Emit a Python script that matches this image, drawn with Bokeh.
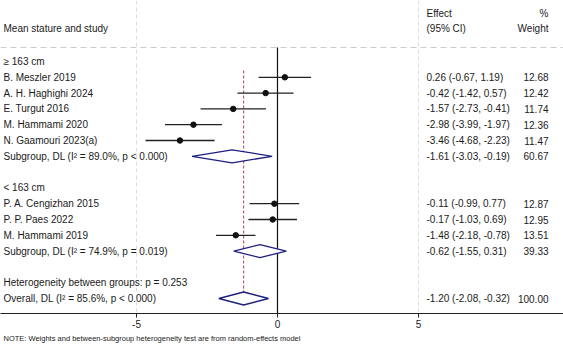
from bokeh.plotting import figure
from bokeh.models import (ColumnDataSource, Range1d, LinearAxis, FixedTicker, Span, Title)
from bokeh.core.properties import value
from bokeh.embed import file_html
from bokeh.resources import INLINE

# ---------------- data ----------------
group_labels = ["\u2265 163 cm", "< 163 cm"]
studies_1 = ["B. Meszler 2019", "A. H. Haghighi 2024", "E. Turgut 2016",
             "M. Hammami 2020", "N. Gaamouri 2023(a)"]
effect_1 = [0.26, -0.42, -1.57, -2.98, -3.46]
lower_1 = [-0.67, -1.42, -2.73, -3.99, -4.68]
upper_1 = [1.19, 0.57, -0.41, -1.97, -2.23]
weight_1 = [12.68, 12.42, 11.74, 12.36, 11.47]

studies_2 = ["P. A. Cengizhan 2015", "P. P. Paes 2022", "M. Hammami 2019"]
effect_2 = [-0.11, -0.17, -1.48]
lower_2 = [-0.99, -1.03, -2.18]
upper_2 = [0.77, 0.69, -0.78]
weight_2 = [12.87, 12.95, 13.51]

subgroup_effect = [-1.61, -0.62]
subgroup_lower = [-3.03, -1.55]
subgroup_upper = [-0.19, 0.31]
subgroup_weight = [60.67, 39.33]
subgroup_labels = ["Subgroup, DL (I\u00b2 = 89.0%, p < 0.000)",
                   "Subgroup, DL (I\u00b2 = 74.9%, p = 0.019)"]

overall_effect = -1.20
overall_lower = -2.08
overall_upper = -0.32
overall_weight = 100.00
overall_label = "Overall, DL (I\u00b2 = 85.6%, p < 0.000)"
heterogeneity_label = "Heterogeneity between groups: p = 0.253"
note_text = "NOTE: Weights and between-subgroup heterogeneity test are from random-effects model"
x_ticks = [-5, 0, 5]

# ---------------- layout helpers ----------------
W, FH = 563, 313
X0PX, PXU = 277.0, 28.2          # pixel of x=0, pixels per unit
ROW0PX, ROWPX = 61.0, 15.8       # pixel of row 1, pixels per row


def px2x(px):
    return (px - X0PX) / PXU


def px2r(py):
    return 1 + (py - ROW0PX) / ROWPX


FONT = value("Liberation Sans")
TXT = "#1a1a1a"

p = figure(frame_width=W, frame_height=FH, output_backend="svg", toolbar_location=None,
           x_range=Range1d(px2x(0), px2x(W)), y_range=Range1d(px2r(FH), px2r(0)),
           x_axis_location=None, y_axis_location=None,
           min_border_left=0, min_border_right=0, min_border_top=0, min_border_bottom=0)
p.outline_line_color = None
p.background_fill_color = "white"
p.border_fill_color = "white"
p.ygrid.visible = False

xaxis = LinearAxis(ticker=FixedTicker(ticks=x_ticks))
xaxis.major_label_overrides = {t: str(t) for t in x_ticks}
xaxis.major_tick_out = 4
xaxis.major_tick_in = 0
xaxis.minor_tick_line_color = None
xaxis.axis_line_color = "#222222"
xaxis.major_tick_line_color = "#222222"
xaxis.major_label_text_font = "Liberation Sans"
xaxis.major_label_text_font_size = "10px"
xaxis.major_label_text_color = TXT
xaxis.major_label_standoff = 2
p.add_layout(xaxis, "below")

p.xgrid.ticker = FixedTicker(ticks=[t for t in x_ticks if t != 0])
p.xgrid.grid_line_color = "#dddddd"
p.xgrid.grid_line_dash = "4 3"

note = Title(text=note_text, text_font_size="7.5px", text_font="Liberation Sans",
             text_font_style="normal", text_color=TXT, align="left", standoff=2, offset=3)
p.add_layout(note, "below")

# ---------------- rows ----------------
label_rows, label_texts = [], []
st_rows, st_eff, st_lo, st_hi, st_w = [], [], [], [], []
d_rows, d_eff, d_lo, d_hi, d_w = [], [], [], [], []

row = 1
groups = [(studies_1, effect_1, lower_1, upper_1, weight_1),
          (studies_2, effect_2, lower_2, upper_2, weight_2)]
for g, (names, ef, lo, hi, w) in enumerate(groups):
    label_rows.append(row); label_texts.append(group_labels[g]); row += 1
    for n, e, l, h, ww in zip(names, ef, lo, hi, w):
        label_rows.append(row); label_texts.append(n)
        st_rows.append(row); st_eff.append(e); st_lo.append(l); st_hi.append(h); st_w.append(ww)
        row += 1
    label_rows.append(row); label_texts.append(subgroup_labels[g])
    d_rows.append(row); d_eff.append(subgroup_effect[g]); d_lo.append(subgroup_lower[g])
    d_hi.append(subgroup_upper[g]); d_w.append(subgroup_weight[g])
    row += 2
label_rows.append(row); label_texts.append(heterogeneity_label); row += 1
label_rows.append(row); label_texts.append(overall_label)
d_rows.append(row); d_eff.append(overall_effect); d_lo.append(overall_lower)
d_hi.append(overall_upper); d_w.append(overall_weight)
last_row = row

# horizontal dashed separator and reference lines
hdr_r = px2r(47)
p.add_layout(Span(location=hdr_r, dimension="width", line_color="#cccccc",
                  line_dash="6 4", line_width=1))
p.segment(x0=[0], y0=[hdr_r], x1=[0], y1=[px2r(FH)], line_color="#111111", line_width=1.2)
p.segment(x0=[overall_effect], y0=[px2r(70)], x1=[overall_effect], y1=[last_row + 0.45],
          line_color="#b8344a", line_width=1, line_dash="3 2")

# study CIs and points
st = ColumnDataSource(dict(r=st_rows, e=st_eff, lo=st_lo, hi=st_hi))
p.segment(x0="lo", y0="r", x1="hi", y1="r", source=st, line_color="#222222", line_width=1.3)
p.scatter(x="e", y="r", source=st, size=5.5, color="#111111")

# diamonds
h = 6.5 / ROWPX
xs = [[l, e, u, e] for l, e, u in zip(d_lo, d_eff, d_hi)]
ys = [[r, r - h, r, r + h] for r in d_rows]
p.patches(xs=xs, ys=ys, fill_color="white", line_color="#1f1f80", line_width=1.3)

# text columns
lab_x = px2x(3)
eff_x = px2x(426)
w_x = px2x(548)
p.text(x=[lab_x] * len(label_rows), y=label_rows, text=label_texts, text_font=FONT,
       text_font_size="10px", text_color=TXT, text_baseline="middle", text_align="left")

all_rows = st_rows + d_rows
all_e = st_eff + d_eff
all_lo = st_lo + d_lo
all_hi = st_hi + d_hi
all_w = st_w + d_w
eff_txt = ["%.2f (%.2f, %.2f)" % (e, l, u) for e, l, u in zip(all_e, all_lo, all_hi)]
w_txt = ["%.2f" % w for w in all_w]
p.text(x=[eff_x] * len(all_rows), y=all_rows, text=eff_txt, text_font=FONT,
       text_font_size="10px", text_color=TXT, text_baseline="middle", text_align="left")
p.text(x=[w_x] * len(all_rows), y=all_rows, text=w_txt, text_font=FONT,
       text_font_size="10px", text_color=TXT, text_baseline="middle", text_align="right")

# headers
p.text(x=[lab_x], y=[px2r(28)], text=["Mean stature and study"], text_font=FONT,
       text_font_size="10px", text_color=TXT, text_baseline="middle", text_align="left")
p.text(x=[eff_x, eff_x], y=[px2r(13), px2r(28)], text=["Effect", "(95% CI)"], text_font=FONT,
       text_font_size="10px", text_color=TXT, text_baseline="middle", text_align="left")
p.text(x=[w_x, w_x], y=[px2r(13), px2r(28)], text=["%", "Weight"], text_font=FONT,
       text_font_size="10px", text_color=TXT, text_baseline="middle", text_align="right")

open("out.html", "w").write(file_html(p, INLINE))
